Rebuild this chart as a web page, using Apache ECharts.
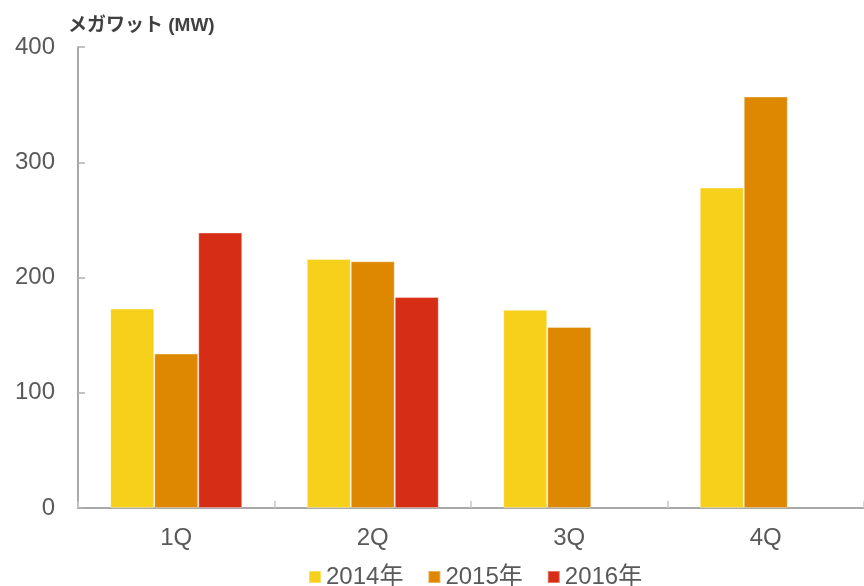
<!DOCTYPE html>
<html>
<head>
<meta charset="utf-8">
<script src="https://cdn.jsdelivr.net/npm/echarts@6/dist/echarts.min.js"></script>
<style>
  html, body { margin: 0; padding: 0; background: #fff; }
  #chart { width: 864px; height: 586px; }
</style>
</head>
<body>
<div id="chart"></div>
<script>
// Quarterly installed capacity, megawatts
const quarters = ['1Q', '2Q', '3Q', '4Q'];
const seriesNames = ['2014年', '2015年', '2016年'];
const mw2014 = [173, 216, 172, 278];
const mw2015 = [134, 214, 157, 357];
const mw2016 = [239, 183, null, null];
const yTicks = [0, 100, 200, 300, 400];
const colors = ['#F6D01A', '#DE8700', '#D52E14'];

const font = '"Liberation Sans", Arial, "Noto Sans CJK JP", sans-serif';
const textColor = '#595959';
const axisColor = '#8c8c8c';

const values = [mw2014, mw2015, mw2016];

const chart = echarts.init(document.getElementById('chart'));
chart.setOption({
  animation: false,
  backgroundColor: '#ffffff',
  title: {
    text: 'メガワット (MW)',
    left: 63,
    top: 11,
    textStyle: {
      fontFamily: font,
      fontSize: 19,
      fontWeight: 'bold',
      color: '#404040'
    }
  },
  legend: {
    data: seriesNames,
    top: 560,
    left: 303,
    itemWidth: 12,
    itemHeight: 12,
    itemGap: 24,
    icon: 'rect',
    textStyle: {
      fontFamily: font,
      fontSize: 24,
      color: textColor
    }
  },
  grid: {
    left: 78,
    right: -5,
    top: 47,
    bottom: 78,
    containLabel: false
  },
  xAxis: {
    type: 'category',
    data: quarters,
    axisLine: { lineStyle: { color: axisColor, width: 1.5 } },
    axisTick: {
      show: true,
      inside: true,
      length: 7,
      lineStyle: { color: '#c8c8c8', width: 1.5 }
    },
    axisLabel: {
      fontFamily: font,
      fontSize: 24,
      color: textColor,
      margin: 18
    }
  },
  yAxis: {
    type: 'value',
    min: yTicks[0],
    max: yTicks[yTicks.length - 1],
    interval: 100,
    axisLine: { show: true, lineStyle: { color: axisColor, width: 1.5 } },
    axisTick: {
      show: true,
      inside: true,
      length: 7,
      lineStyle: { color: '#b0b0b0', width: 1.5 }
    },
    splitLine: { show: false },
    axisLabel: {
      fontFamily: font,
      fontSize: 24,
      color: textColor,
      margin: 23
    }
  },
  series: seriesNames.map((name, i) => ({
    name: name,
    type: 'bar',
    data: values[i],
    barWidth: 44,
    barGap: '0%',
    itemStyle: {
      color: colors[i],
      borderColor: 'rgba(255,255,255,0.35)',
      borderWidth: 1
    }
  }))
});
</script>
</body>
</html>
